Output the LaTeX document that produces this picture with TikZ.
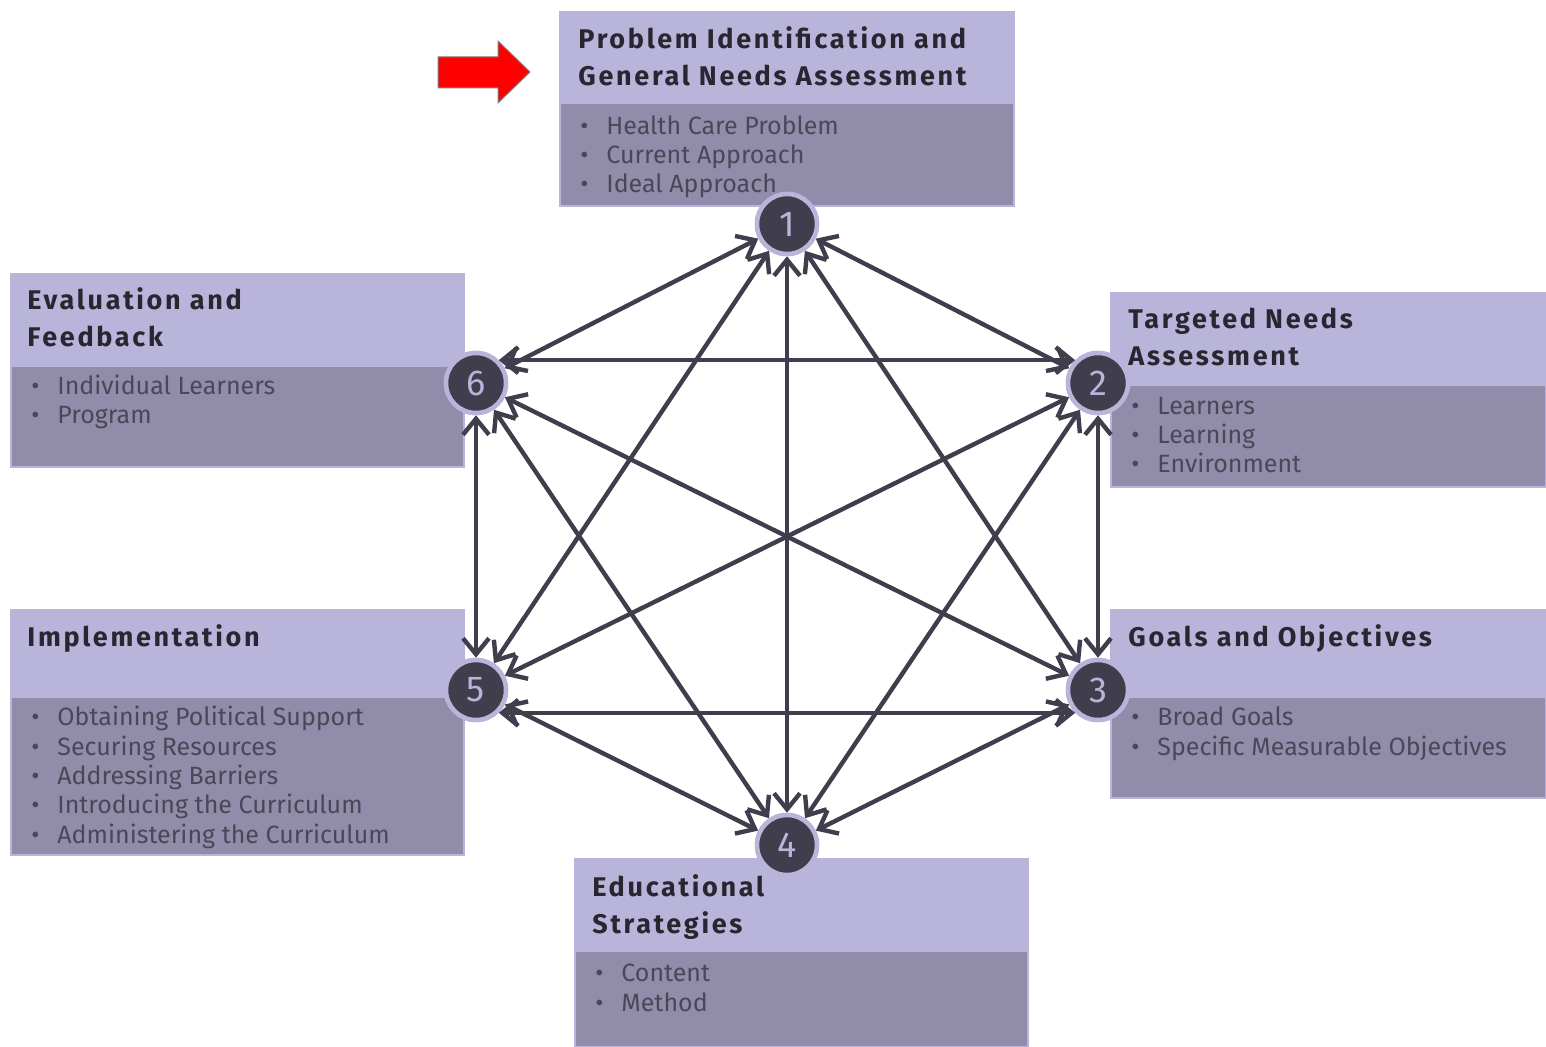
\documentclass[tikz,border=0pt]{standalone}
\usepackage{fontspec}
\setmainfont{Fira Sans}
\newfontfamily\titlefont[LetterSpace=10]{Fira Sans}
\usepackage{tikz}
\usetikzlibrary{arrows.meta}
\definecolor{headfill}{RGB}{185,180,217}
\definecolor{bodyfill}{RGB}{145,140,170}
\definecolor{darkdot}{RGB}{64,61,77}
\definecolor{titletext}{RGB}{40,38,48}
\definecolor{itemtext}{RGB}{74,71,88}
\tikzset{
    stagetitle/.style={anchor=base west, inner sep=0, align=left, text=titletext,
        font=\titlefont\fontsize{13.5}{18.5}\selectfont\bfseries},
    stageitems/.style={anchor=base west, inner sep=0, align=left, text=itemtext,
        font=\fontsize{12.5}{14.65}\selectfont},
    stepcirc/.style={circle, fill=darkdot, draw=headfill, line width=2.25pt, minimum size=30pt,
        inner sep=0, text=headfill, font=\fontsize{18}{18}\selectfont},
    barb/.tip={Straight Barb[length=8pt,width=13pt,line width=2.2pt]},
    link/.style={draw=darkdot, line width=2.2pt, barb-barb}
}
\newcommand{\stagebox}[5]{% left, top, right, split, bottom
    \fill[headfill] (#1,#2) rectangle (#3,#4);
    \fill[bodyfill] (#1,#4) rectangle (#3,#5);
    \draw[headfill, line width=1pt] (#1,#2) rectangle (#3,#5);
}
\newcommand{\bul}{\makebox[13pt][l]{\textbullet}}

\begin{document}
\begin{tikzpicture}[x=0.5pt, y=-0.5pt]
\useasboundingbox (0,0) rectangle (1546,1047);

% the six stages (base = baseline of the last line)
\stagebox{560}{12}{1014}{104}{206}
\stagebox{1111}{293}{1546}{386}{487}
\stagebox{1111}{610}{1546}{698}{798}
\stagebox{575}{859}{1028}{952}{1047}
\stagebox{11}{610}{464}{698}{855}
\stagebox{11}{274}{464}{367}{467}

\node[stagetitle] (t1) at (578,86) {Problem Identification and\\General Needs Assessment};
\node[stageitems] (b1) at (580,193) {\bul Health Care Problem\\\bul Current Approach\\\bul Ideal Approach};
\node[stagetitle] (t2) at (1128,366) {Targeted Needs\\Assessment};
\node[stageitems] (b2) at (1131,473) {\bul Learners\\\bul Learning\\\bul Environment};
\node[stagetitle] (t3) at (1128,646) {Goals and Objectives};
\node[stageitems] (b3) at (1131,755) {\bul Broad Goals\\\bul Specific Measurable Objectives};
\node[stagetitle] (t4) at (592,933) {Educational\\Strategies};
\node[stageitems] (b4) at (595,1011) {\bul Content\\\bul Method};
\node[stagetitle] (t5) at (27,646) {Implementation};
\node[stageitems] (b5) at (31,843) {\bul Obtaining Political Support\\\bul Securing Resources\\\bul Addressing Barriers\\\bul Introducing the Curriculum\\\bul Administering the Curriculum};
\node[stagetitle] (t6) at (27,347) {Evaluation and\\Feedback};
\node[stageitems] (b6) at (31,424) {\bul Individual Learners\\\bul Program};

% start marker
\draw[fill=red, draw=gray, line width=0.5pt] (438,57) -- (498,57) -- (498,41) -- (530,72) -- (498,103) -- (498,88) -- (438,88) -- cycle;

% numbered steps
\foreach \n/\x/\y in {1/787/224, 2/1098/383, 3/1098/690, 4/787/845, 5/476/690, 6/476/383}{
    \node[stepcirc] (n\n) at (\x,\y) {\n};
}
\foreach \a/\b in {1/2,1/3,1/4,1/5,1/6,2/3,2/4,2/5,3/4,3/6,4/5,4/6,5/6}{
    \draw[link] (n\a) -- (n\b);
}
\draw[link] (n6.45) -- (n2.135);
\draw[link] (n5.-45) -- (n3.-135);
% circles again on top of the links
\foreach \n/\x/\y in {1/787/224, 2/1098/383, 3/1098/690, 4/787/845, 5/476/690, 6/476/383}{
    \node[stepcirc] (m\n) at (\x,\y) {\n};
}
\end{tikzpicture}
\end{document}
